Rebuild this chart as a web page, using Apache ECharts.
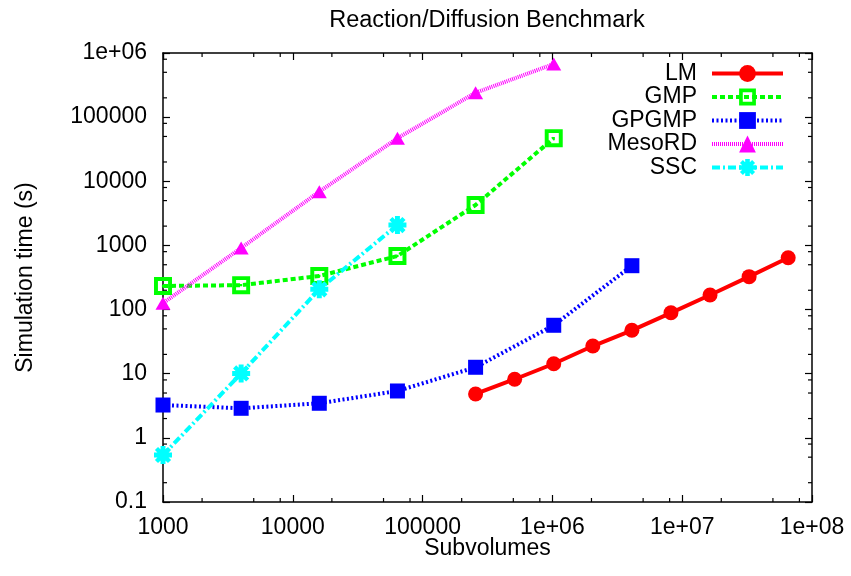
<!DOCTYPE html>
<html><head><meta charset="utf-8">
<script src="https://cdn.jsdelivr.net/npm/echarts@6/dist/echarts.min.js"></script>
<style>html,body{margin:0;padding:0;background:#fff}#c{width:851px;height:576px}</style>
</head><body><div id="c"></div>
<script>
const seriesNames = ['LM','GMP','GPGMP','MesoRD','SSC'];
const lmX = [256000,512000,1024000,2048000,4096000,8192000,16384000,32768000,65536000];
const lmY = [4.83,8.2,14.3,27,47.5,89,169,326,644];
const gmpX = [1000,4000,16000,64000,256000,1024000];
const gmpY = [233,240,334,685,4270,47000];
const gpgmpX = [1000,4000,16000,64000,256000,1024000,4096000];
const gpgmpY = [3.25,2.89,3.46,5.38,12.6,56.9,483];
const mesordX = [1000,4000,16000,64000,256000,1024000];
const mesordY = [126,912,6890,46800,240000,674000];
const sscX = [1000,4000,16000,64000];
const sscY = [0.54,10.1,207,2080];
const xTickLabels = ['1000','10000','100000','1e+06','1e+07','1e+08'];
const yTickLabels = ['0.1','1','10','100','1000','10000','100000','1e+06'];
const minorMultipliers = [2,5,8];

(function () {
const FONT = '"Liberation Sans", Arial, Helvetica, sans-serif';
const FS = 23;
const pairs = (xs, ys) => xs.map((x, i) => [x, ys[i]]);

const gmpSymbol = 'path://M0,0H16V16H0Z M3.5,3.5V12.5H12.5V3.5Z M7,7H9V9H7Z';
const sscSymbol = 'path://M5.8,0H10.2V16H5.8Z M0,5.8H16V10.2H0Z M0.8,3.6L3.6,0.8L15.2,12.4L12.4,15.2Z M12.4,0.8L15.2,3.6L3.6,15.2L0.8,12.4Z';

const colors = {LM: '#ff0000', GMP: '#00ff00', GPGMP: '#0000ff', MesoRD: '#ff00ff', SSC: '#00ffff'};
const dashes = {LM: 'solid', GMP: [5, 3], GPGMP: [2, 2.5], MesoRD: [1, 1], SSC: [8, 3, 2, 3]};

const chart = echarts.init(document.getElementById('c'), null, {renderer: 'canvas'});

function xLabel(v) { const e = Math.round(Math.log10(v)); return xTickLabels[e - 3] || ''; }
function yLabel(v) { const e = Math.round(Math.log10(v)); return yTickLabels[e + 1] || ''; }

const axisLine = {show: true, lineStyle: {color: '#000', width: 1.5}};
const axisTick = {show: true, inside: true, length: 7, lineStyle: {color: '#000', width: 1.2}};

function mkSeries(name, xs, ys, symbol, size) {
  const color = colors[name];
  return {
    name, type: 'line', data: pairs(xs, ys), symbol, symbolSize: size, clip: false,
    showAllSymbol: true,
    lineStyle: {color, width: 4, type: dashes[name]},
    itemStyle: {color, borderWidth: 0},
    emphasis: {disabled: true}
  };
}

const option = {
  animation: false,
  backgroundColor: '#fff',
  title: {
    text: 'Reaction/Diffusion Benchmark', left: 482, textAlign: 'center', top: 4,
    textStyle: {fontFamily: FONT, fontSize: 23.5, fontWeight: 'normal', color: '#000'}
  },
  grid: {left: 163, right: 39, top: 53, bottom: 74},
  xAxis: [{
    type: 'log', min: 1000, max: 1e8, logBase: 10, splitNumber: 5,
    name: 'Subvolumes', nameLocation: 'middle', nameGap: 35, nameMoveOverlap: false,
    nameTextStyle: {fontFamily: FONT, fontSize: FS, color: '#000'},
    axisLine, axisTick, splitLine: {show: false},
    axisLabel: {formatter: xLabel, fontFamily: FONT, fontSize: FS, color: '#000', margin: 14}
  }, {
    type: 'log', min: 1000, max: 1e8, logBase: 10, splitNumber: 5, position: 'top',
    axisLine, axisTick, splitLine: {show: false}, axisLabel: {show: false}
  }],
  yAxis: [{
    type: 'log', min: 0.1, max: 1e6, logBase: 10, splitNumber: 7,
    name: 'Simulation time (s)', nameLocation: 'middle', nameGap: 126, nameMoveOverlap: false,
    nameTextStyle: {fontFamily: FONT, fontSize: FS, color: '#000'},
    axisLine, axisTick, splitLine: {show: false},
    axisLabel: {formatter: yLabel, fontFamily: FONT, fontSize: FS, color: '#000', margin: 16}
  }, {
    type: 'log', min: 0.1, max: 1e6, logBase: 10, splitNumber: 7, position: 'right',
    axisLine, axisTick, splitLine: {show: false}, axisLabel: {show: false}
  }],
  legend: {
    data: seriesNames.map(n => ({name: n, lineStyle: {color: colors[n], width: 4, type: dashes[n]}})),
    orient: 'vertical', right: 61, top: 57, align: 'right',
    itemWidth: 71, itemHeight: 21, itemGap: 0.5, selectedMode: false,
    textStyle: {fontFamily: FONT, fontSize: FS, color: '#000', padding: [0, 10, 0, 0]}
  },
  series: [
    mkSeries('LM', lmX, lmY, 'circle', 15),
    mkSeries('GMP', gmpX, gmpY, gmpSymbol, 18),
    mkSeries('GPGMP', gpgmpX, gpgmpY, 'rect', 15),
    mkSeries('MesoRD', mesordX, mesordY, 'triangle', [15, 13]),
    mkSeries('SSC', sscX, sscY, sscSymbol, 18)
  ]
};
chart.setOption(option);

// minor ticks (2, 5, 8 within each decade) on all four sides
const gLeft = chart.convertToPixel({xAxisIndex: 0}, 1000);
const gRight = chart.convertToPixel({xAxisIndex: 0}, 1e8);
const gBottom = chart.convertToPixel({yAxisIndex: 0}, 0.1);
const gTop = chart.convertToPixel({yAxisIndex: 0}, 1e6);
const ticks = [];
const L = 4;
const ls = {stroke: '#000', lineWidth: 1.2};
for (let d = 3; d < 8; d++) {
  minorMultipliers.forEach(m => {
    const px = chart.convertToPixel({xAxisIndex: 0}, m * Math.pow(10, d));
    ticks.push({type: 'line', shape: {x1: px, y1: gBottom, x2: px, y2: gBottom - L}, style: ls, silent: true});
    ticks.push({type: 'line', shape: {x1: px, y1: gTop, x2: px, y2: gTop + L}, style: ls, silent: true});
  });
}
for (let d = -1; d < 6; d++) {
  minorMultipliers.forEach(m => {
    const py = chart.convertToPixel({yAxisIndex: 0}, m * Math.pow(10, d));
    ticks.push({type: 'line', shape: {x1: gLeft, y1: py, x2: gLeft + L, y2: py}, style: ls, silent: true});
    ticks.push({type: 'line', shape: {x1: gRight, y1: py, x2: gRight - L, y2: py}, style: ls, silent: true});
  });
}
chart.setOption({graphic: ticks});
})();
</script>
</body></html>
